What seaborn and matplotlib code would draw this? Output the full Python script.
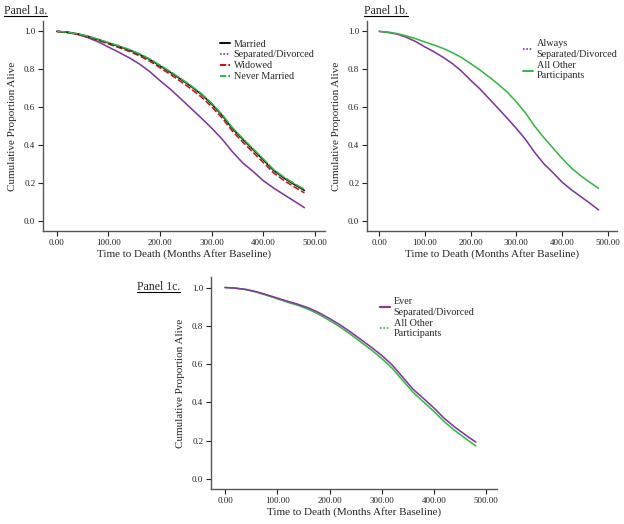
import numpy as np
import pandas as pd
import matplotlib
matplotlib.use("Agg")
import matplotlib.pyplot as plt
import seaborn as sns
from matplotlib.ticker import FormatStrFormatter
from matplotlib.lines import Line2D

sns.set_style("white")
plt.rcParams['font.family'] = ['Liberation Serif', 'DejaVu Serif']

months = [0, 20, 40, 60, 80, 100, 120, 140, 160, 180, 200, 220, 240,
          260, 280, 300, 320, 340, 360, 380, 400, 420, 440, 460, 480]

# Panel 1a
married = [1.0, 0.996, 0.987, 0.974, 0.957, 0.939, 0.921, 0.902, 0.879, 0.852, 0.818, 0.784, 0.748,
           0.710, 0.668, 0.617, 0.558, 0.489, 0.431, 0.377, 0.323, 0.267, 0.227, 0.193, 0.161]
sep_div = [1.0, 0.994, 0.984, 0.967, 0.945, 0.917, 0.890, 0.861, 0.828, 0.788, 0.740, 0.695, 0.645,
           0.594, 0.543, 0.490, 0.433, 0.366, 0.307, 0.262, 0.213, 0.174, 0.139, 0.105, 0.070]
widowed = [1.0, 0.995, 0.985, 0.971, 0.953, 0.934, 0.915, 0.895, 0.871, 0.843, 0.808, 0.773, 0.736,
           0.697, 0.654, 0.603, 0.544, 0.475, 0.417, 0.363, 0.309, 0.254, 0.214, 0.180, 0.148]
never_married = [1.0, 0.996, 0.987, 0.975, 0.959, 0.941, 0.924, 0.905, 0.882, 0.855, 0.822, 0.788, 0.752,
                 0.714, 0.672, 0.622, 0.563, 0.494, 0.436, 0.382, 0.328, 0.272, 0.232, 0.198, 0.167]

# Panel 1b
always_sep = [1.0, 0.994, 0.985, 0.968, 0.946, 0.918, 0.892, 0.863, 0.830, 0.790, 0.742, 0.697, 0.646,
              0.594, 0.542, 0.488, 0.430, 0.362, 0.302, 0.255, 0.205, 0.165, 0.130, 0.095, 0.058]
all_other_b = [1.0, 0.996, 0.988, 0.976, 0.961, 0.944, 0.928, 0.910, 0.888, 0.862, 0.830, 0.797, 0.760,
               0.722, 0.680, 0.628, 0.570, 0.500, 0.440, 0.385, 0.330, 0.280, 0.240, 0.205, 0.172]

# Panel 1c
ever_sep = [1.0, 0.997, 0.990, 0.978, 0.962, 0.945, 0.928, 0.912, 0.893, 0.868, 0.838, 0.805, 0.768,
            0.728, 0.688, 0.645, 0.595, 0.532, 0.468, 0.420, 0.370, 0.315, 0.270, 0.230, 0.192]
all_other_c = [1.0, 0.996, 0.989, 0.976, 0.959, 0.941, 0.923, 0.906, 0.886, 0.859, 0.828, 0.794, 0.756,
               0.715, 0.674, 0.629, 0.578, 0.515, 0.452, 0.402, 0.352, 0.298, 0.252, 0.212, 0.172]

x_ticks = [0, 100, 200, 300, 400, 500]
y_ticks = [0.0, 0.2, 0.4, 0.6, 0.8, 1.0]

PURPLE = '#7e3a96'
GREEN = '#3cb44a'
RED = '#c0191f'
BLACK = '#111111'
LW = 1.15

def long_df(series):
    rows = []
    for name, vals in series:
        for m, v in zip(months, vals):
            rows.append((name, m, v))
    return pd.DataFrame(rows, columns=['group', 'month', 'surv'])

fig = plt.figure(figsize=(6.24, 5.24), dpi=100)
axA = fig.add_axes([0.0689, 0.5592, 0.452, 0.4008])
axB = fig.add_axes([0.588, 0.5592, 0.4006, 0.4008])
axC = fig.add_axes([0.338, 0.0668, 0.458, 0.4046])

def style_ax(ax):
    ax.set_xlim(-27, 520)
    ax.set_ylim(-0.053, 1.055)
    ax.set_xticks(x_ticks)
    ax.set_yticks(y_ticks)
    ax.xaxis.set_major_formatter(FormatStrFormatter('%.2f'))
    ax.yaxis.set_major_formatter(FormatStrFormatter('%.1f'))
    ax.tick_params(axis='both', labelsize=6.5, length=3.5, width=0.8, direction='out',
                   left=True, bottom=True, colors='#222222', pad=2)
    for s in ['top', 'right']:
        ax.spines[s].set_visible(False)
    for s in ['left', 'bottom']:
        ax.spines[s].set_color('#555555')
        ax.spines[s].set_linewidth(1.0)
    ax.set_xlabel('Time to Death (Months After Baseline)', fontsize=8, labelpad=2)
    ax.set_ylabel('Cumulative Proportion Alive', fontsize=8, labelpad=5)

LEG_FS = 7.3

# Panel 1a
dfA = long_df([('Separated/Divorced', sep_div), ('Widowed', widowed),
               ('Married', married), ('Never Married', never_married)])
sns.lineplot(data=dfA, x='month', y='surv', hue='group', style='group',
             palette={'Married': BLACK, 'Separated/Divorced': PURPLE,
                      'Widowed': RED, 'Never Married': GREEN},
             dashes={'Married': '', 'Separated/Divorced': '',
                     'Widowed': (4, 1.5), 'Never Married': (6, 1)},
             linewidth=LW, ax=axA, legend=False)
style_ax(axA)
hA = [Line2D([], [], color=BLACK, lw=1.5),
      Line2D([], [], color=PURPLE, lw=1.2, ls=(0, (1, 1))),
      Line2D([], [], color=RED, lw=1.5, ls=(0, (3, 1))),
      Line2D([], [], color=GREEN, lw=1.5, ls=(0, (3, 1)))]
axA.legend(hA, ['Married', 'Separated/Divorced', 'Widowed', 'Never Married'],
           loc='upper left', bbox_to_anchor=(0.628, 0.912), frameon=False,
           fontsize=LEG_FS, handlelength=1.0, handletextpad=0.35, labelspacing=0.18,
           borderpad=0, borderaxespad=0)

# Panel 1b
dfB = long_df([('Always\nSeparated/Divorced', always_sep), ('All Other\nParticipants', all_other_b)])
sns.lineplot(data=dfB, x='month', y='surv', hue='group',
             palette={'Always\nSeparated/Divorced': PURPLE, 'All Other\nParticipants': GREEN},
             linewidth=LW, ax=axB, legend=False)
style_ax(axB)
hB = [Line2D([], [], color=PURPLE, lw=1.2, ls=(0, (1, 1))),
      Line2D([], [], color=GREEN, lw=1.4)]
axB.legend(hB, ['Always\nSeparated/Divorced', 'All Other\nParticipants'],
           loc='upper left', bbox_to_anchor=(0.624, 0.912), frameon=False,
           fontsize=LEG_FS, handlelength=1.0, handletextpad=0.35, labelspacing=0.2,
           borderpad=0, borderaxespad=0)

# Panel 1c
dfC = long_df([('All Other\nParticipants', all_other_c), ('Ever\nSeparated/Divorced', ever_sep)])
sns.lineplot(data=dfC, x='month', y='surv', hue='group',
             palette={'Ever\nSeparated/Divorced': PURPLE, 'All Other\nParticipants': GREEN},
             linewidth=LW, ax=axC, legend=False)
style_ax(axC)
hC = [Line2D([], [], color=PURPLE, lw=1.6),
      Line2D([], [], color=GREEN, lw=1.2, ls=(0, (1, 1)))]
axC.legend(hC, ['Ever\nSeparated/Divorced', 'All Other\nParticipants'],
           loc='upper left', bbox_to_anchor=(0.591, 0.905), frameon=False,
           fontsize=LEG_FS, handlelength=1.0, handletextpad=0.35, labelspacing=0.2,
           borderpad=0, borderaxespad=0)

# Panel titles (underlined)
fig.canvas.draw()
renderer = fig.canvas.get_renderer()

def panel_title(x, y, s):
    t = fig.text(x / 624, 1 - y / 524, s, fontsize=8.5, ha='left', va='center')
    bb = t.get_window_extent(renderer=renderer)
    y0 = bb.y0 + 1.0
    fig.add_artist(Line2D([bb.x0 / 624, bb.x1 / 624],
                          [y0 / 524, y0 / 524], color='black', lw=0.8,
                          transform=fig.transFigure))

panel_title(4, 11, 'Panel 1a.')
panel_title(364, 11, 'Panel 1b.')
panel_title(137, 287, 'Panel 1c.')

fig.savefig('out.png', dpi=100)
